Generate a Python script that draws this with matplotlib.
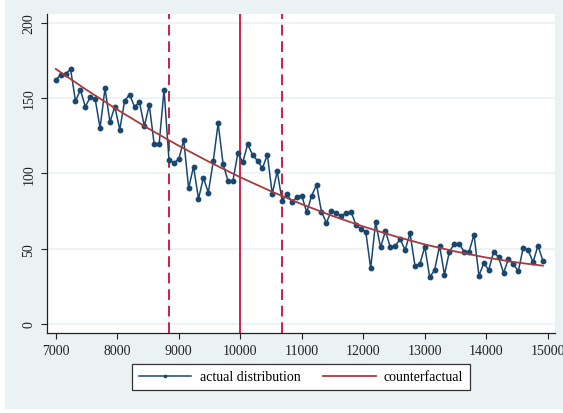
import matplotlib
matplotlib.use("Agg")
import matplotlib.pyplot as plt
from matplotlib.patches import Rectangle
import numpy as np

plt.rcParams['font.family'] = ['Liberation Serif', 'DejaVu Serif']

# bins of width 80 starting at 7000
bins = np.arange(7000, 15000, 80)
actual = [162.2, 165.3, 166.0, 169.3, 148.0, 155.4, 144.3, 150.5, 149.4, 130.1,
          156.5, 134.1, 144.3, 129.0, 148.3, 152.3, 144.3, 147.2, 131.3, 145.4,
          119.3, 119.3, 155.6, 109.1, 107.1, 109.3, 122.2, 90.1, 104.5, 83.0,
          97.1, 87.2, 108.0, 133.3, 106.2, 95.0, 95.0, 113.3, 107.4, 119.3,
          112.2, 108.4, 103.4, 112.4, 86.3, 101.4, 81.9, 86.1, 81.0, 84.1,
          85.2, 74.1, 85.2, 92.3, 74.6, 67.1, 75.2, 73.5, 71.9, 73.5,
          74.6, 65.9, 63.1, 61.3, 37.0, 67.5, 50.9, 61.6, 50.9, 52.0,
          56.2, 49.1, 60.2, 38.7, 39.8, 51.3, 31.0, 35.9, 52.0, 32.7,
          48.0, 53.1, 53.1, 48.0, 48.0, 59.3, 32.1, 40.3, 35.9, 48.0,
          44.3, 33.9, 43.2, 39.8, 35.0, 50.5, 49.1, 41.0, 52.0, 42.0]

# counterfactual
cf_x = [7000, 7500, 8000, 8500, 9000, 9500, 10000, 10500, 11000, 11500,
        12000, 12500, 13000, 13500, 14000, 14500, 14920]
cf_y = [169.3, 155.4, 142.3, 129.9, 118.3, 107.5, 97.4, 88.1, 79.5, 71.7,
        64.7, 58.4, 52.8, 48.1, 44.1, 40.8, 38.7]

cutoff = 10000
bounds = [8840, 10680]

W, H = 563, 414
fig = plt.figure(figsize=(W / 100, H / 100), dpi=100, facecolor='white')
fig.patches.append(Rectangle((5 / W, 4 / H), 1, 1, transform=fig.transFigure,
                             facecolor='#eaf2f3', edgecolor='none', zorder=-5))

ax = fig.add_axes([46.7 / W, 1 - 334 / H, (555.3 - 46.7) / W, (334 - 14.7) / H])
ax.set_zorder(2)
ax.set_facecolor('white')

ax.set_xlim(6852, 15122)
ax.set_ylim(-6, 206)
ax.set_xticks(range(7000, 15001, 1000))
ax.set_yticks(range(0, 201, 50))

for yv in range(0, 201, 50):
    ax.axhline(yv, color='#eaf2f3', lw=1.2, zorder=1)

for b in bounds:
    ax.axvline(b, color='#d01c45', lw=1.4, ls=(0, (5.5, 3)), zorder=2)
ax.axvline(cutoff, color='#c8143c', lw=1.3, zorder=2)

ax.plot(bins, actual, color='#1a476f', lw=1.1, marker='o', ms=3.2,
        zorder=3, label='actual distribution')
ax.plot(cf_x, cf_y, color='#a83a3d', lw=1.3, zorder=4, label='counterfactual')

for s in ['top', 'right']:
    ax.spines[s].set_visible(False)
for s in ['left', 'bottom']:
    ax.spines[s].set_color('#222222')
    ax.spines[s].set_linewidth(0.9)

ax.tick_params(axis='both', direction='out', length=4, width=0.8,
               colors='#222222', labelsize=10)
ax.tick_params(axis='y', pad=4)
ax.tick_params(axis='x', pad=4)
for lab in ax.get_yticklabels():
    lab.set_rotation(90)
    lab.set_va('center')

leg = fig.legend(loc='center', bbox_to_anchor=(301 / W, 1 - 378 / H), ncol=2,
                 frameon=True, fancybox=False, fontsize=10, handlelength=3.8,
                 handletextpad=0.6, columnspacing=1.6, borderpad=0.45,
                 markerscale=0.5, framealpha=1)
leg.set_zorder(3)
leg.get_frame().set_edgecolor('#333333')
leg.get_frame().set_linewidth(0.9)
leg.get_frame().set_facecolor('white')

fig.savefig('out.png', dpi=100, facecolor=fig.get_facecolor())
